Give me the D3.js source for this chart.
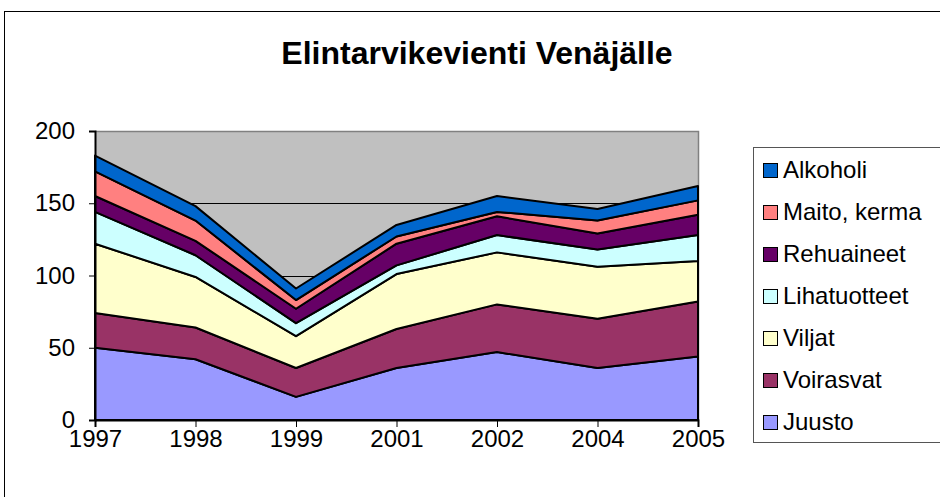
<!DOCTYPE html>
<html lang="fi">
  <head>
    <meta charset="UTF-8" />
    <script src="https://d3js.org/d3.v7.min.js"></script>
    <title>Elintarvikevienti Venäjälle</title>
    <style>
        body {
            margin: 0;
            background: #fff;
            font-family: Arial, "Liberation Sans", sans-serif;
        }
    </style>
  </head>
  <body>
    <svg width="940" height="497"></svg>
    <script type="text/javascript">
      // data (stacked, bottom to top)
      const years = ["1997", "1998", "1999", "2001", "2002", "2004", "2005"];
      const juusto = [50, 42, 16, 36, 47, 36, 44];
      const voirasvat = [24, 22, 20, 27, 33, 34, 38];
      const viljat = [48, 35, 22, 38, 36, 36, 28];
      const lihatuotteet = [22, 15, 9, 6, 12, 12, 18];
      const rehuaineet = [11, 10, 10, 15, 13, 11, 14];
      const maito = [17, 14, 6, 5, 3, 9, 10];
      const alkoholi = [11, 10, 8, 8, 11, 8, 10];
      const seriesNames = ["Juusto", "Voirasvat", "Viljat", "Lihatuotteet", "Rehuaineet", "Maito, kerma", "Alkoholi"];
      const yTicks = [0, 50, 100, 150, 200];

      const colors = ["#9999FF", "#993366", "#FFFFCC", "#CCFFFF", "#660066", "#FF8080", "#0066CC"];
      const allSeries = [juusto, voirasvat, viljat, lihatuotteet, rehuaineet, maito, alkoholi];

      const table = years.map((yr, i) => {
        const row = { year: yr };
        seriesNames.forEach((n, k) => (row[n] = allSeries[k][i]));
        return row;
      });

      // plot area
      const pLeft = 95, pRight = 698, pTop = 131, pBottom = 420;

      const svg = d3.select("svg");

      // outer chart border
      svg.append("rect")
        .attr("x", 4.5).attr("y", 11.5)
        .attr("width", 960).attr("height", 520)
        .attr("fill", "#fff").attr("stroke", "#000");

      svg.append("text")
        .attr("x", 477).attr("y", 64)
        .attr("text-anchor", "middle")
        .style("font-size", "32px")
        .style("font-weight", "bold")
        .text("Elintarvikevienti Venäjälle");

      const x = d3.scalePoint().domain(years).range([pLeft, pRight]);
      const y = d3.scaleLinear().domain([0, 200]).range([pBottom, pTop]);

      svg.append("rect")
        .attr("x", pLeft).attr("y", pTop)
        .attr("width", pRight - pLeft).attr("height", pBottom - pTop)
        .attr("fill", "#C0C0C0");

      // gridlines
      svg.append("g")
        .selectAll("line")
        .data(yTicks.filter((t) => t > 0))
        .enter()
        .append("line")
        .attr("x1", pLeft).attr("x2", pRight)
        .attr("y1", (d) => Math.round(y(d)) + 0.5)
        .attr("y2", (d) => Math.round(y(d)) + 0.5)
        .attr("stroke", "#000");

      // plot border top & right
      svg.append("path")
        .attr("d", `M${pLeft},${pTop + 0.5}H${pRight + 0.5}V${pBottom}`)
        .attr("fill", "none").attr("stroke", "#808080").attr("stroke-width", 1.5);

      const stack = d3.stack().keys(seriesNames);
      const layers = stack(table);

      const area = d3.area()
        .x((d) => x(d.data.year))
        .y0((d) => y(d[0]))
        .y1((d) => y(d[1]));

      svg.append("g")
        .selectAll("path")
        .data(layers)
        .enter()
        .append("path")
        .attr("d", area)
        .attr("fill", (d, i) => colors[i])
        .attr("stroke", "#000")
        .attr("stroke-width", 2)
        .attr("stroke-linejoin", "round");

      // axes
      const yAxis = d3.axisLeft(y).tickValues(yTicks).tickSize(6).tickPadding(14);
      const gy = svg.append("g")
        .attr("transform", `translate(${pLeft}, 0)`)
        .call(yAxis);
      gy.select(".domain").attr("stroke-width", 2);
      gy.selectAll("text").style("font-size", "24px").attr("fill", "#000")
        .attr("font-family", "Arial, 'Liberation Sans', sans-serif");

      const xAxis = d3.axisBottom(x).tickSize(7).tickPadding(3);
      const gx = svg.append("g")
        .attr("transform", `translate(0, ${pBottom})`)
        .call(xAxis);
      gx.select(".domain").attr("stroke-width", 2);
      gx.selectAll("text").style("font-size", "24px").attr("fill", "#000")
        .attr("font-family", "Arial, 'Liberation Sans', sans-serif");

      // legend
      const legend = svg.append("g");
      legend.append("rect")
        .attr("x", 753.5).attr("y", 147.5)
        .attr("width", 200).attr("height", 295)
        .attr("fill", "#fff").attr("stroke", "#555");

      const legendItems = seriesNames.map((n, i) => ({ name: n, color: colors[i] })).reverse();
      const rowY = d3.scalePoint().domain(legendItems.map((d) => d.name)).range([170, 422]);

      const items = legend.selectAll("g.item")
        .data(legendItems)
        .enter()
        .append("g")
        .attr("class", "item")
        .attr("transform", (d) => `translate(0, ${rowY(d.name)})`);

      items.append("rect")
        .attr("x", 763.5).attr("y", -6.5)
        .attr("width", 14).attr("height", 14)
        .attr("fill", (d) => d.color)
        .attr("stroke", "#000");

      items.append("text")
        .attr("x", 783).attr("y", 8)
        .style("font-size", "24px")
        .text((d) => d.name);
    </script>
  </body>
</html>
